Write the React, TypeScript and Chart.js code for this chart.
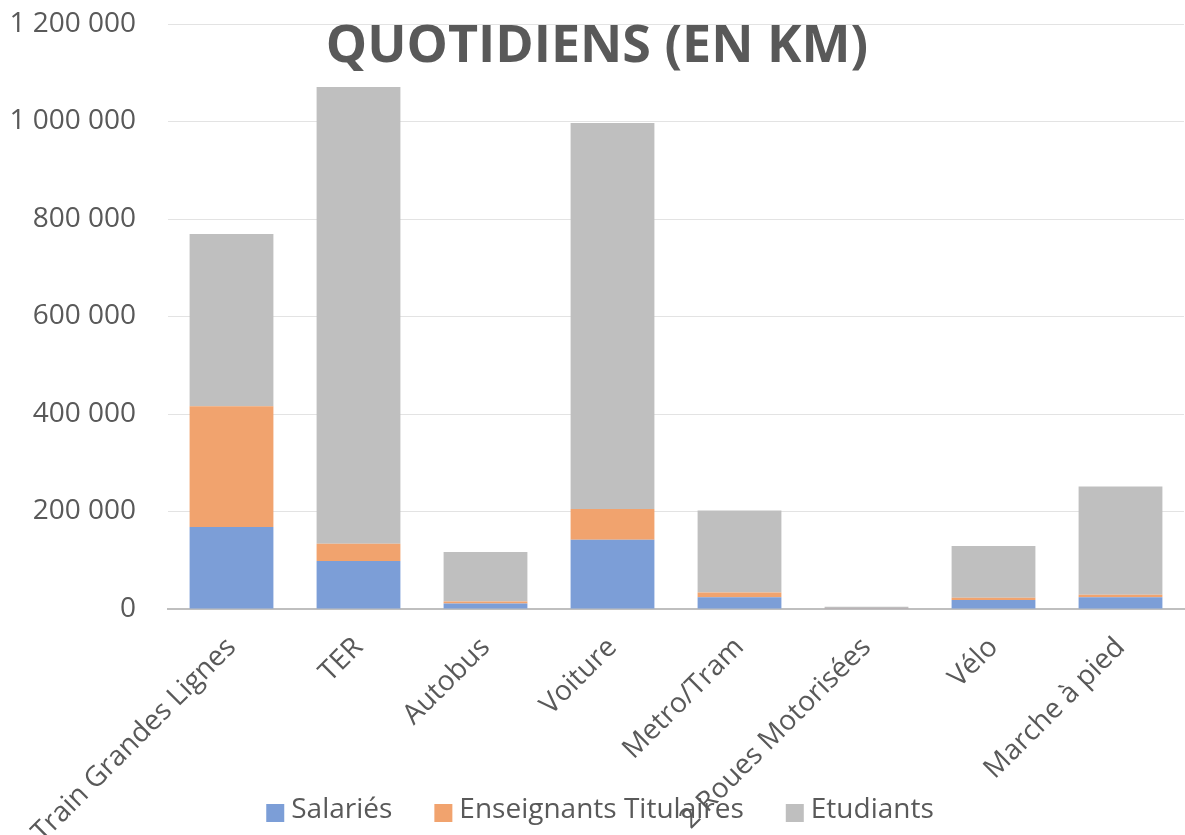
import React, { useEffect, useRef } from "react";
import { Chart, registerables } from "chart.js";

Chart.register(...registerables);

const TITLE = "QUOTIDIENS (EN KM)";
const CATEGORIES = [
  "Train Grandes Lignes",
  "TER",
  "Autobus",
  "Voiture",
  "Metro/Tram",
  "2 Roues Motorisées",
  "Vélo",
  "Marche à pied",
];
const SERIES_NAMES = ["Salariés", "Enseignants Titulaires", "Etudiants"];
const SALARIES = [168000, 98500, 11500, 142000, 24000, 500, 18500, 24000];
const ENSEIGNANTS = [248000, 35500, 4000, 63000, 10000, 300, 4500, 5000];
const ETUDIANTS = [353000, 937000, 101500, 792000, 168000, 4000, 106000, 222500];
const Y_MAX = 1200000;
const Y_STEP = 200000;

const COLORS = ["#7C9ED7", "#F1A36E", "#BFBFBF"];
const TEXT = "#595959";
const FONT = "'Open Sans', sans-serif";

function fmt(v: number): string {
  return String(Math.round(v)).replace(/\B(?=(\d{3})+(?!\d))/g, " ");
}

const titlePlugin = {
  id: "excelTitle",
  afterDatasetsDraw(chart: any) {
    const ctx = chart.ctx;
    ctx.save();
    ctx.font = `bold 52px ${FONT}`;
    ctx.fillStyle = TEXT;
    ctx.textAlign = "center";
    ctx.textBaseline = "alphabetic";
    ctx.fillText(TITLE, 597, 62);
    ctx.restore();
  },
};

const legendPlugin = {
  id: "excelLegend",
  afterDraw(chart: any) {
    const ctx = chart.ctx;
    ctx.save();
    ctx.font = `28px ${FONT}`;
    ctx.textBaseline = "middle";
    ctx.textAlign = "left";
    const box = 18;
    const gapText = 7;
    const gapItem = 42;
    const items = chart.data.datasets.map((d: any) => ({
      label: d.label,
      color: d.backgroundColor,
      w: box + gapText + ctx.measureText(d.label).width,
    }));
    const total = items.reduce((s: number, it: any) => s + it.w, 0) + gapItem * (items.length - 1);
    let x = 600 - total / 2;
    const y = 810;
    for (const it of items) {
      ctx.fillStyle = it.color;
      ctx.fillRect(x, y + 3 - box / 2, box, box);
      ctx.fillStyle = TEXT;
      ctx.fillText(it.label, x + box + gapText, y);
      x += it.w + gapItem;
    }
    ctx.restore();
  },
};

export default function App() {
  const ref = useRef<HTMLCanvasElement | null>(null);
  useEffect(() => {
    if (!ref.current) return;
    const chart = new Chart(ref.current, {
      type: "bar",
      data: {
        labels: CATEGORIES,
        datasets: [
          { label: SERIES_NAMES[0], data: SALARIES, backgroundColor: COLORS[0] },
          { label: SERIES_NAMES[1], data: ENSEIGNANTS, backgroundColor: COLORS[1] },
          { label: SERIES_NAMES[2], data: ETUDIANTS, backgroundColor: COLORS[2] },
        ],
      },
      options: {
        responsive: false,
        animation: false,
        layout: { padding: { top: 24, right: 1, left: 0, bottom: 0 } },
        datasets: { bar: { categoryPercentage: 1, barPercentage: 0.66 } },
        plugins: {
          legend: { display: false },
          title: { display: false },
          tooltip: { enabled: false },
        },
        scales: {
          x: {
            stacked: true,
            grid: { display: false, drawTicks: false },
            border: { display: true, color: "#BFBFBF", width: 2 },
            ticks: {
              color: TEXT,
              font: { family: FONT, size: 28 },
              minRotation: 45,
              maxRotation: 45,
              padding: 22,
              autoSkip: false,
            },
            afterFit(scale: any) {
              scale.height = 226;
              scale.paddingTop = 0;
            },
          },
          y: {
            stacked: true,
            min: 0,
            max: Y_MAX,
            grid: { color: "#E3E3E3", lineWidth: 1, drawTicks: false },
            border: { display: false },
            ticks: {
              stepSize: Y_STEP,
              color: TEXT,
              font: { family: FONT, size: 28 },
              padding: 32,
              callback: (v: any) => fmt(Number(v)),
            },
            afterFit(scale: any) {
              scale.width = 168;
              scale.paddingTop = 0;
              scale.paddingBottom = 0;
            },
          },
        },
      },
      plugins: [titlePlugin, legendPlugin],
    });
    return () => chart.destroy();
  }, []);
  return (
    <div style={{ position: "fixed", left: 0, top: 0, width: 1185, height: 835, background: "#fff" }}>
      <canvas ref={ref} width={1185} height={835} />
    </div>
  );
}
